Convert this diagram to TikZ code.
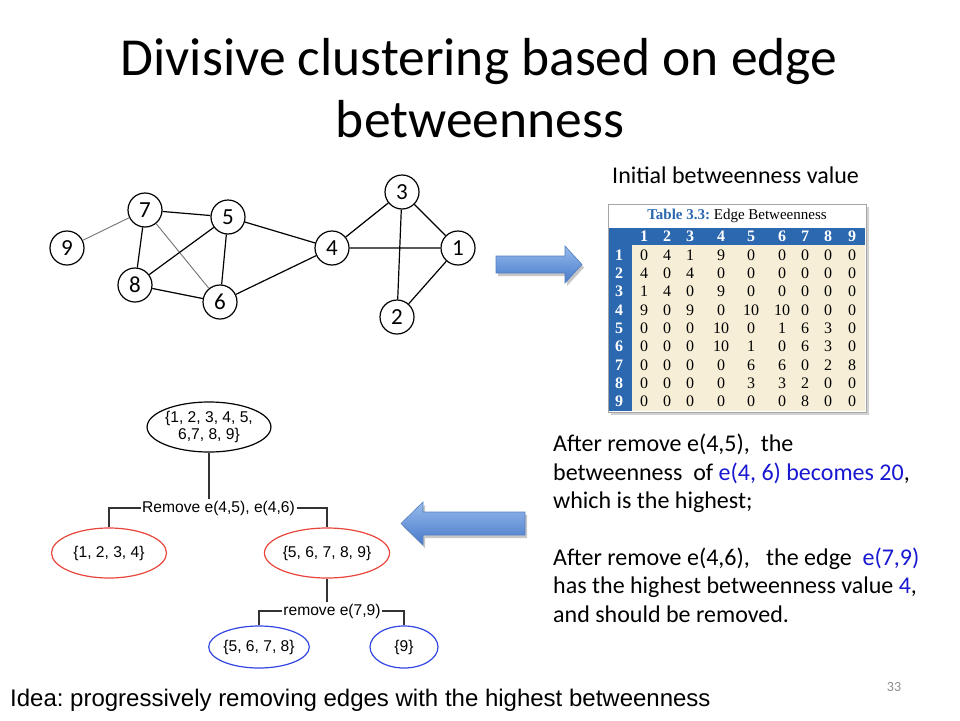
\documentclass[tikz,border=0pt]{standalone}
\usepackage{fontspec}
\setmainfont{Carlito}
\newfontfamily\arialfont{Liberation Sans}
\newfontfamily\tablefont{Liberation Serif}
\usetikzlibrary{shapes.geometric, positioning, calc}
\definecolor{txtblue}{RGB}{24,24,210}
\definecolor{tabblue}{RGB}{44,104,176}
\definecolor{tabbeige}{RGB}{246,238,214}
\definecolor{arrowtop}{RGB}{150,186,236}
\definecolor{arrowbot}{RGB}{72,122,202}
\definecolor{arrowline}{RGB}{84,128,192}
\definecolor{ellred}{RGB}{232,70,60}
\definecolor{ellblue}{RGB}{50,70,225}
\newcommand{\fsize}[2]{\fontsize{#1}{#2}\selectfont}
\frenchspacing
\tikzset{vert/.style={circle, draw=black, line width=1.2pt, minimum size=34pt, inner sep=0pt, font=\fsize{23}{28}}}
\tikzset{gedge/.style={line width=1.2pt}}
\tikzset{ledge/.style={line width=0.9pt, draw=black!55}}
\tikzset{cluster/.style={ellipse, draw, line width=1.2pt, inner sep=0pt, align=center, font=\arialfont\fsize{15.6}{17.7}}}
\tikzset{tline/.style={line width=1.2pt, draw=black!80}}
\tikzset{cutlabel/.style={inner sep=1.5pt, font=\arialfont\fsize{15.6}{17.7}}}
\tikzset{cell/.style={inner sep=0pt, font=\tablefont\fsize{16}{18}}}
\tikzset{headcell/.style={inner sep=0pt, text=white, font=\tablefont\bfseries\fsize{16}{18}}}
\tikzset{slidetext/.style={anchor=base west, inner sep=0pt, font=\fsize{24}{29}}}

\begin{document}
\begin{tikzpicture}[x=1pt, y=-1pt]
    \fill[white] (0, 0) rectangle (960, 720);
    \useasboundingbox (0, 0) rectangle (960, 720);

    \node[inner sep=0pt, anchor=base, font=\fsize{53.5}{62}] (title1) at (479, 75) {Divisive clustering based on edge};
    \node[inner sep=0pt, anchor=base, font=\fsize{53.5}{62}] (title2) at (480, 137) {betweenness};

    % graph
    \node[vert] (v9) at (67, 248) {9};
    \node[vert] (v7) at (145, 210) {7};
    \node[vert] (v5) at (228, 217) {5};
    \node[vert] (v8) at (135, 285) {8};
    \node[vert] (v6) at (220, 302) {6};
    \node[vert] (v4) at (332, 248) {4};
    \node[vert] (v3) at (402, 192) {3};
    \node[vert] (v1) at (458, 248) {1};
    \node[vert] (v2) at (397, 317) {2};

    \draw[ledge] (v9) -- (v7) (v7) -- (v6);
    \draw[gedge]
    (v7) -- (v5)
    (v7) -- (v8)
    (v5) -- (v8)
    (v5) -- (v6)
    (v5) -- (v4)
    (v8) -- (v6)
    (v6) -- (v4)
    (v4) -- (v3)
    (v4) -- (v1)
    (v3) -- (v1)
    (v3) -- (v2)
    (v1) -- (v2);

    % table
    \node[slidetext, font=\fsize{24}{29}] (tabcap) at (612, 183) {Initial betweenness value};
    \fill[black!18] (611, 207) rectangle (869, 415);
    \draw[black!35, fill=white] (608, 204) rectangle (866, 412);
    \fill[tabbeige] (632, 245) rectangle (865, 411);
    \fill[tabblue] (609, 228) rectangle (865, 245);
    \fill[tabblue] (609, 245) rectangle (632, 411);
    \node[inner sep=0pt, font=\tablefont\fsize{15}{17}] (tabtitle) at (737, 216) {\textcolor{tabblue}{\textbf{Table 3.3:}} Edge Betweenness};
    \foreach \cx [count=\c] in {644,667,690,721,751,782,805,828,852} {
        \node[headcell] (h-\c) at (\cx, 236.5) {\c};
        \node[headcell] (r-\c) at (619, {236.6+18.35*\c}) {\c};
    }
    \foreach \rowvals [count=\r] in {{0,4,1,9,0,0,0,0,0},{4,0,4,0,0,0,0,0,0},{1,4,0,9,0,0,0,0,0},{9,0,9,0,10,10,0,0,0},{0,0,0,10,0,1,6,3,0},{0,0,0,10,1,0,6,3,0},{0,0,0,0,6,6,0,2,8},{0,0,0,0,3,3,2,0,0},{0,0,0,0,0,0,8,0,0}}
        \foreach \v [count=\c] in \rowvals {
            \pgfmathsetmacro{\cx}{{644,667,690,721,751,782,805,828,852}[\c-1]}
            \node[cell] (t-\r-\c) at (\cx, {236.6+18.35*\r}) {\v};
        }

    % arrows
    \fill[black!22] (498, 259) -- (567, 259) -- (567, 249) -- (584, 267.5) -- (567, 286) -- (567, 276) -- (498, 276) -- cycle;
    \shadedraw[top color=arrowtop, bottom color=arrowbot, draw=arrowline, line width=0.6pt] (496, 256) -- (565, 256) -- (565, 246) -- (582, 264.5) -- (565, 283) -- (565, 273) -- (496, 273) -- cycle;
    \fill[black!22] (527, 515) -- (425, 515) -- (425, 505) -- (403, 526.5) -- (425, 548) -- (425, 538) -- (527, 538) -- cycle;
    \shadedraw[top color=arrowtop, bottom color=arrowbot, draw=arrowline, line width=0.6pt] (525, 512) -- (423, 512) -- (423, 502) -- (401, 523.5) -- (423, 545) -- (423, 535) -- (525, 535) -- cycle;

    % tree
    \node[cluster, minimum width=116pt, minimum height=50pt] (root) at (209, 427) {\{1, 2, 3, 4, 5,\\6,7, 8, 9\}};
    \node[cutlabel] (cut1) at (218.5, 508) {Remove e(4,5), e(4,6)};
    \node[cluster, draw=ellred, minimum width=115pt, minimum height=50pt] (left) at (109, 553) {\{1, 2, 3, 4\}};
    \node[cluster, draw=ellred, minimum width=115pt, minimum height=50pt] (right) at (327, 553) {\{5, 6, 7, 8, 9\}};
    \node[cutlabel] (cut2) at (332, 611) {remove e(7,9)};
    \node[cluster, draw=ellblue, minimum width=98pt, minimum height=42pt] (lowl) at (259, 647) {\{5, 6, 7, 8\}};
    \node[cluster, draw=ellblue, minimum width=68pt, minimum height=42pt] (lowr) at (404, 647) {\{9\}};

    \draw[tline] (root.south) -- (root.south |- cut1.north);
    \draw[tline] (cut1.west) -| (left.north);
    \draw[tline] (cut1.east) -| (right.north);
    \draw[tline] (right.south) -- (right.south |- cut2.north);
    \draw[tline] (cut2.west) -| (lowl.north);
    \draw[tline] (cut2.east) -| (lowr.north);

    % explanation
    \node[slidetext] (p1a) at (553, 451) {After remove e(4,5),~ the};
    \node[slidetext] (p1b) at (553, 480) {betweenness~ of \textcolor{txtblue}{e(4, 6) becomes 20},};
    \node[slidetext] (p1c) at (553, 508.5) {which is the highest;};
    \node[slidetext] (p2a) at (553, 565) {After remove e(4,6),~~ the edge~ \textcolor{txtblue}{e(7,9)}};
    \node[slidetext] (p2b) at (553, 593.5) {has the highest betweenness value \textcolor{txtblue}{4},};
    \node[slidetext] (p2c) at (553, 622) {and should be removed.};

    \node[slidetext, font=\arialfont\fsize{24}{28}] (idea) at (10, 706) {Idea: progressively removing edges with the highest betweenness};
    \node[inner sep=0pt, text=black!45, font=\fsize{14}{16}] (pageno) at (894, 687) {33};
\end{tikzpicture}
\end{document}
